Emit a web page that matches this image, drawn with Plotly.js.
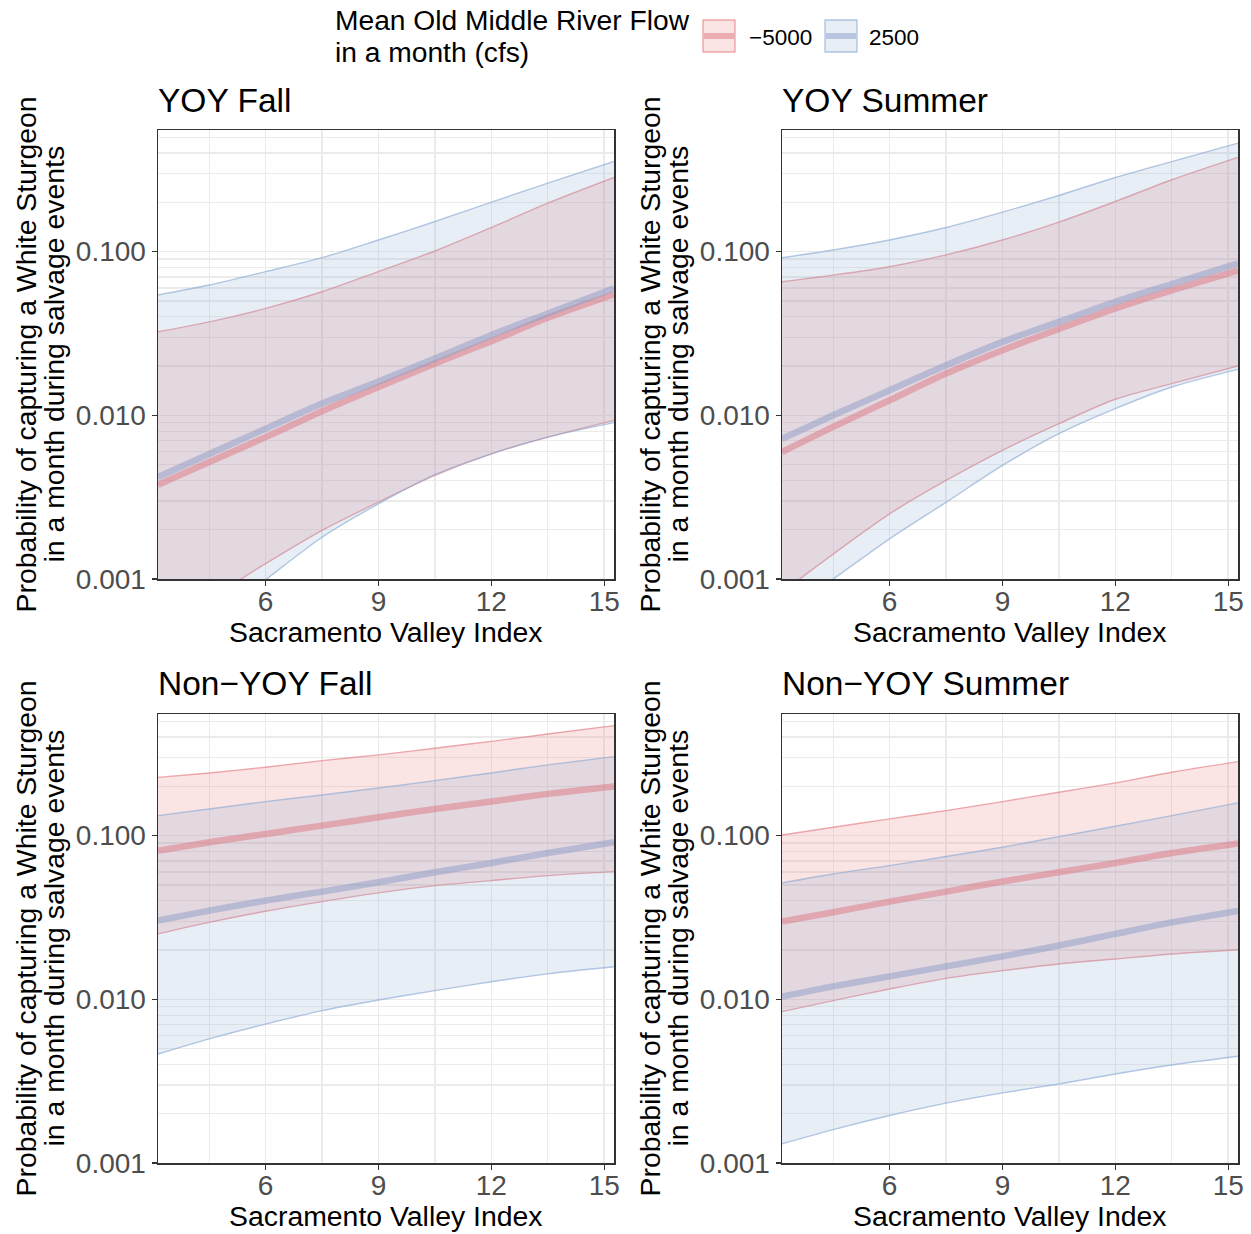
<!DOCTYPE html>
<html>
<head>
<meta charset="utf-8">
<script src="https://cdn.plot.ly/plotly-3.0.1.min.js"></script>
<style>html,body{margin:0;padding:0;background:#fff;}</style>
</head>
<body>
<div id="chart" style="width:1251px;height:1234px;"></div>
<script>
// Sacramento Valley Index values at which the model predictions are evaluated
const svi = [3.14, 4.5, 6, 7.5, 9, 10.5, 12, 13.5, 15.26];

// Flow levels (legend)
const flowLabels = ['\u22125000', '2500'];

// YOY Fall
const yoyFallNegFit = [0.00376, 0.00518, 0.00736, 0.0106, 0.0149, 0.0207, 0.0284, 0.0394, 0.0548];
const yoyFallNegLo  = [0.00052, 0.00076, 0.00124, 0.00198, 0.00295, 0.0043, 0.00582, 0.00736, 0.00931];
const yoyFallNegHi  = [0.0324, 0.0372, 0.045, 0.0569, 0.0755, 0.1009, 0.1403, 0.1977, 0.2838];
const yoyFallPosFit = [0.00419, 0.0058, 0.00828, 0.0118, 0.0161, 0.0222, 0.0309, 0.0419, 0.0597];
const yoyFallPosLo  = [0.00032, 0.00054, 0.00099, 0.0018, 0.00288, 0.00434, 0.00582, 0.00736, 0.00902];
const yoyFallPosHi  = [0.0543, 0.0625, 0.0755, 0.0918, 0.1178, 0.1527, 0.2004, 0.2618, 0.3557];

// YOY Summer
const yoySummerNegFit = [0.00597, 0.0085, 0.01236, 0.018, 0.025, 0.0337, 0.045, 0.058, 0.0766];
const yoySummerNegLo  = [0.00083, 0.00142, 0.0025, 0.004, 0.00611, 0.00889, 0.01253, 0.01563, 0.02];
const yoySummerNegHi  = [0.0655, 0.0719, 0.0809, 0.0955, 0.1178, 0.1514, 0.2023, 0.2748, 0.3767];
const yoySummerPosFit = [0.00719, 0.01, 0.01422, 0.0202, 0.0281, 0.0372, 0.0494, 0.0634, 0.0849];
const yoySummerPosLo  = [0.0006, 0.001, 0.00176, 0.00294, 0.00494, 0.00773, 0.011, 0.0149, 0.0191];
const yoySummerPosHi  = [0.0918, 0.1023, 0.1178, 0.1403, 0.1742, 0.2203, 0.2838, 0.355, 0.4603];

// Non-YOY Fall
const nonYoyFallNegFit = [0.0809, 0.091, 0.1023, 0.1151, 0.1294, 0.1455, 0.1614, 0.1799, 0.1999];
const nonYoyFallNegLo  = [0.0251, 0.0295, 0.0345, 0.0395, 0.0447, 0.0495, 0.0531, 0.057, 0.0603];
const nonYoyFallNegHi  = [0.227, 0.2415, 0.2618, 0.2871, 0.3112, 0.342, 0.3767, 0.4178, 0.4699];
const nonYoyFallPosFit = [0.0303, 0.0348, 0.0401, 0.0455, 0.0519, 0.0597, 0.0681, 0.0783, 0.091];
const nonYoyFallPosLo  = [0.00463, 0.00573, 0.00706, 0.00853, 0.00991, 0.0113, 0.0128, 0.0143, 0.0158];
const nonYoyFallPosHi  = [0.1324, 0.1455, 0.1614, 0.177, 0.1954, 0.2168, 0.2415, 0.2704, 0.304];

// Non-YOY Summer
const nonYoySummerNegFit = [0.0299, 0.034, 0.0395, 0.0455, 0.0524, 0.0597, 0.0681, 0.0783, 0.0897];
const nonYoySummerNegLo  = [0.00841, 0.00982, 0.01156, 0.01343, 0.01496, 0.01644, 0.01762, 0.01892, 0.02009];
const nonYoySummerNegHi  = [0.1009, 0.1125, 0.1265, 0.1422, 0.1614, 0.1841, 0.2099, 0.2438, 0.2831];
const nonYoySummerPosFit = [0.0104, 0.012, 0.0138, 0.0159, 0.0183, 0.0213, 0.0251, 0.0295, 0.0347];
const nonYoySummerPosLo  = [0.00131, 0.0016, 0.00195, 0.00232, 0.00268, 0.00304, 0.0035, 0.00397, 0.00449];
const nonYoySummerPosHi  = [0.0514, 0.0583, 0.0656, 0.0745, 0.0849, 0.0986, 0.114, 0.1324, 0.1585];

// Axis ticks
const xTicks = [6, 9, 12, 15];
const xMinor = [4.5, 7.5, 10.5, 13.5];
const yTicks = [0.001, 0.01, 0.1];
const yTickText = ['0.001', '0.010', '0.100'];
const yMinor = [0.002, 0.003, 0.004, 0.005, 0.006, 0.007, 0.008, 0.009,
                0.02, 0.03, 0.04, 0.05, 0.06, 0.07, 0.08, 0.09,
                0.2, 0.3, 0.4, 0.5];

// Axis titles
const xTitle = 'Sacramento Valley Index';
const yTitleLines = ['Probability of capturing a White Sturgeon', 'in a month during salvage events'];
const legendTitleLines = ['Mean Old Middle River Flow', 'in a month (cfs)'];

const FONT = 'Liberation Sans, Arial, Helvetica, sans-serif';
const W = 1251, H = 1234;
const px = v => v / W;
const py = v => 1 - v / H;

const styles = [
  { fill: 'rgba(228,118,118,0.2)', edge: 'rgba(225,115,120,0.6)', fit: 'rgba(222,118,128,0.5)' },
  { fill: 'rgba(140,170,212,0.2)', edge: 'rgba(140,170,212,0.65)', fit: 'rgba(140,155,200,0.5)' }
];

const panels = [
  { title: 'YOY Fall', n: '', series: [[yoyFallNegFit, yoyFallNegLo, yoyFallNegHi], [yoyFallPosFit, yoyFallPosLo, yoyFallPosHi]] },
  { title: 'YOY Summer', n: '2', series: [[yoySummerNegFit, yoySummerNegLo, yoySummerNegHi], [yoySummerPosFit, yoySummerPosLo, yoySummerPosHi]] },
  { title: 'Non\u2212YOY Fall', n: '3', series: [[nonYoyFallNegFit, nonYoyFallNegLo, nonYoyFallNegHi], [nonYoyFallPosFit, nonYoyFallPosLo, nonYoyFallPosHi]] },
  { title: 'Non\u2212YOY Summer', n: '4', series: [[nonYoySummerNegFit, nonYoySummerNegLo, nonYoySummerNegHi], [nonYoySummerPosFit, nonYoySummerPosLo, nonYoySummerPosHi]] }
];

// Plot-area boxes in pixels: [left, right, top, bottom]; y-title line centres
const boxes = [
  { b: [158, 614, 130, 579], yt: [25, 53] },
  { b: [782, 1238, 130, 579], yt: [649, 677] },
  { b: [158, 614, 714, 1163], yt: [25, 53] },
  { b: [782, 1238, 714, 1163], yt: [649, 677] }
];

const traces = [];
const layout = {
  width: W, height: H,
  margin: { l: 0, r: 0, t: 0, b: 0 },
  paper_bgcolor: '#ffffff',
  plot_bgcolor: '#ffffff',
  showlegend: false,
  font: { family: FONT, color: '#000000' },
  annotations: [],
  shapes: []
};

const spline = { shape: 'spline', smoothing: 0.8 };
const note = (text, x, y, size, extra) => Object.assign({
  text: text, xref: 'paper', yref: 'paper', x: x, y: y,
  xanchor: 'center', yanchor: 'middle', showarrow: false,
  font: { size: size, color: '#000000', family: FONT }
}, extra || {});

panels.forEach((p, i) => {
  const xa = 'x' + p.n, ya = 'y' + p.n;
  // ribbons: lower bound, then upper bound filled down to it
  p.series.forEach((s, k) => {
    const st = styles[k];
    traces.push({ x: svi, y: s[1], xaxis: xa, yaxis: ya, mode: 'lines', hoverinfo: 'skip',
      line: Object.assign({ color: st.edge, width: 1.4 }, spline) });
    traces.push({ x: svi, y: s[2], xaxis: xa, yaxis: ya, mode: 'lines', hoverinfo: 'skip',
      fill: 'tonexty', fillcolor: st.fill,
      line: Object.assign({ color: st.edge, width: 1.4 }, spline) });
  });
  // fitted lines
  p.series.forEach((s, k) => {
    traces.push({ x: svi, y: s[0], xaxis: xa, yaxis: ya, mode: 'lines',
      name: flowLabels[k],
      line: Object.assign({ color: styles[k].fit, width: 6.5 }, spline) });
  });

  const b = boxes[i].b;
  layout['xaxis' + p.n] = {
    domain: [px(b[0]), px(b[1])], anchor: ya, range: [3.14, 15.26],
    tickmode: 'array', tickvals: xTicks, ticks: 'outside', ticklen: 5, tickwidth: 1.2, tickcolor: '#333333',
    ticklabelstandoff: -8,
    tickfont: { size: 28, color: '#4d4d4d', family: FONT },
    showgrid: true, gridcolor: '#ebebeb', gridwidth: 1.6,
    minor: { tickmode: 'array', tickvals: xMinor, showgrid: true, gridcolor: '#ebebeb', gridwidth: 1.3, ticks: '' },
    showline: true, mirror: true, linecolor: '#333333', linewidth: 1.5, zeroline: false,
    automargin: false
  };
  layout['yaxis' + p.n] = {
    domain: [py(b[3]), py(b[2])], anchor: xa, type: 'log', range: [-3, -0.257],
    tickmode: 'array', tickvals: yTicks, ticktext: yTickText, ticks: 'outside', ticklen: 5, tickwidth: 1.2, tickcolor: '#333333',
    tickfont: { size: 28, color: '#4d4d4d', family: FONT },
    showgrid: true, gridcolor: '#ebebeb', gridwidth: 1.6,
    minor: { tickmode: 'array', tickvals: yMinor, showgrid: true, gridcolor: '#ebebeb', gridwidth: 1.3, ticks: '' },
    showline: true, mirror: true, linecolor: '#333333', linewidth: 1.5, zeroline: false,
    automargin: false
  };
  // facet title
  layout.annotations.push(note(p.title, px(b[0] - 2), py(b[2] - 30), 33.5, { xanchor: 'left' }));
  // x-axis title
  layout.annotations.push(note(xTitle, px((b[0] + b[1]) / 2), py(b[3] + 53), 28.4));
  // y-axis title, two rotated lines
  const yc = py((b[2] + b[3]) / 2);
  yTitleLines.forEach((t, j) => {
    layout.annotations.push(note(t, px(boxes[i].yt[j]), yc, 28.4, { textangle: -90 }));
  });
});

// Legend: title, key boxes with fill + fitted line, labels
legendTitleLines.forEach((t, j) => {
  layout.annotations.push(note(t, px(333), py(20 + 32 * j), 28.2, { xanchor: 'left' }));
});
const keyLeft = [703, 825];
const labelLeft = [747, 867];
flowLabels.forEach((lab, k) => {
  const st = styles[k];
  layout.shapes.push({ type: 'rect', xref: 'paper', yref: 'paper',
    x0: px(keyLeft[k]), x1: px(keyLeft[k] + 32), y0: py(52), y1: py(20),
    fillcolor: st.fill, line: { color: st.edge, width: 1.4 } });
  layout.shapes.push({ type: 'line', xref: 'paper', yref: 'paper',
    x0: px(keyLeft[k] + 1), x1: px(keyLeft[k] + 31), y0: py(36), y1: py(36),
    line: { color: st.fit, width: 6 } });
  layout.annotations.push(note(lab, px(labelLeft[k]), py(37), 22.5, { xanchor: 'left' }));
});

Plotly.newPlot('chart', traces, layout, { staticPlot: true, displayModeBar: false });
</script>
</body>
</html>
